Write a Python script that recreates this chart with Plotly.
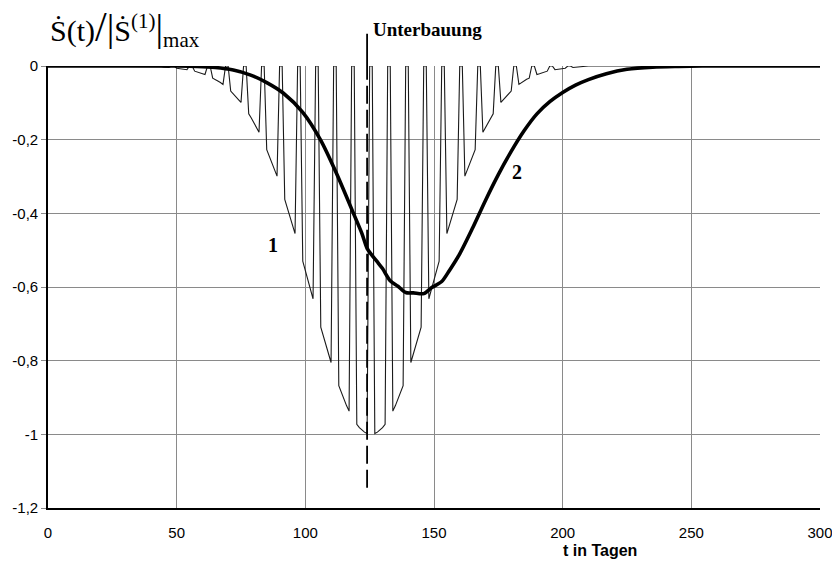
import plotly.graph_objects as go

# ---------------- data ----------------
# curve 1: working-day values (Mon..Fri) of each week; weekend days are 0
week_mondays = [43, 50, 57, 64, 71, 78, 85, 92, 99, 106, 113, 120,
                127, 134, 141, 148, 155, 162, 169, 176, 183, 190, 197, 204]
week_values = [
    [-0.002, -0.002, -0.003, -0.003, -0.004],
    [-0.006, -0.007, -0.008, -0.009, -0.010],
    [-0.014, -0.016, -0.018, -0.021, -0.023],
    [-0.033, -0.036, -0.041, -0.045, -0.050],
    [-0.068, -0.075, -0.083, -0.091, -0.099],
    [-0.130, -0.141, -0.154, -0.167, -0.180],
    [-0.227, -0.244, -0.261, -0.280, -0.299],
    [-0.362, -0.384, -0.407, -0.431, -0.455],
    [-0.530, -0.555, -0.581, -0.607, -0.632],
    [-0.709, -0.734, -0.758, -0.782, -0.805],
    [-0.868, -0.887, -0.905, -0.922, -0.937],
    [-0.973, -0.982, -0.989, -0.994, -0.998],
    [-0.998, -0.994, -0.989, -0.982, -0.973],
    [-0.937, -0.922, -0.905, -0.887, -0.868],
    [-0.805, -0.782, -0.758, -0.734, -0.709],
    [-0.632, -0.607, -0.581, -0.555, -0.530],
    [-0.455, -0.431, -0.407, -0.384, -0.362],
    [-0.299, -0.280, -0.261, -0.244, -0.227],
    [-0.180, -0.167, -0.154, -0.141, -0.130],
    [-0.099, -0.091, -0.083, -0.075, -0.068],
    [-0.050, -0.045, -0.041, -0.036, -0.033],
    [-0.023, -0.021, -0.018, -0.016, -0.014],
    [-0.010, -0.009, -0.008, -0.007, -0.006],
    [-0.004, -0.003, -0.003, -0.002, -0.002],
]

# curve 2: smooth curve
curve2_t = [0, 50, 58, 65, 72, 78.5, 85, 91.5, 99, 106, 112, 118.7, 122, 124,
            126, 128, 130, 133, 136, 139, 142, 146, 149, 153, 156, 160, 165,
            170, 175, 180, 185, 190, 195, 200, 205, 210, 217, 225, 235, 245, 255, 300]
curve2_v = [0, 0, -0.001, -0.004, -0.011, -0.024, -0.045, -0.074, -0.126, -0.202,
            -0.290, -0.400, -0.455, -0.495, -0.515, -0.532, -0.550, -0.583, -0.598,
            -0.615, -0.616, -0.618, -0.602, -0.585, -0.555, -0.510, -0.440,
            -0.365, -0.295, -0.232, -0.176, -0.130, -0.097, -0.072, -0.052,
            -0.037, -0.021, -0.009, -0.003, -0.001, 0, 0]

unterbauung_t = 124
x_ticks = [0, 50, 100, 150, 200, 250, 300]
y_ticks = [0, -0.2, -0.4, -0.6, -0.8, -1.0, -1.2]
y_tick_labels = ["0", "-0,2", "-0,4", "-0,6", "-0,8", "-1", "-1,2"]

# build daily series for curve 1
days = list(range(0, 301))
vals = [0.0] * len(days)
for mon, wv in zip(week_mondays, week_values):
    for i, v in enumerate(wv):
        vals[mon + i] = v

fig = go.Figure()
fig.add_trace(go.Scatter(x=days, y=vals, mode="lines",
                         line=dict(color="#1a1a1a", width=1.1), showlegend=False))
fig.add_trace(go.Scatter(x=curve2_t, y=curve2_v, mode="lines", line_shape="spline",
                         line=dict(color="black", width=3.6, smoothing=0.8), showlegend=False))

# Unterbauung marker line
fig.add_shape(type="line", xref="x", yref="y", x0=unterbauung_t, x1=unterbauung_t,
              y0=-1.145, y1=0, line=dict(color="black", width=1.8, dash="18px,6px"))
fig.add_shape(type="line", xref="x", yref="paper", x0=unterbauung_t, x1=unterbauung_t,
              y0=1.0, y1=1.073, line=dict(color="black", width=1.8))

serif = "Liberation Serif, Times New Roman, DejaVu Serif, serif"
fig.add_annotation(x=unterbauung_t, xref="x", y=1.082, yref="paper", xanchor="left",
                   yanchor="middle", xshift=4, showarrow=False,
                   text="<b>Unterbauung</b>", font=dict(family=serif, size=19, color="black"))
fig.add_annotation(x=87.5, y=-0.486, showarrow=False, text="<b>1</b>",
                   font=dict(family=serif, size=20, color="black"))
fig.add_annotation(x=182.3, y=-0.288, showarrow=False, text="<b>2</b>",
                   font=dict(family=serif, size=20, color="black"))
fig.add_annotation(x=0, xref="paper", y=1.085, yref="paper", xanchor="left",
                   yanchor="middle", showarrow=False,
                   text="Ṡ(t)<span style='font-size:42px'>/</span><span style='font-size:38px'>|</span>Ṡ<sup>(1)</sup><span style='font-size:38px'>|</span><sub>max</sub>",
                   font=dict(family=serif, size=30, color="black"))
fig.add_annotation(x=0.715, xref="paper", y=-0.097, yref="paper", showarrow=False,
                   text="<b>t in Tagen</b>", xanchor="center", yanchor="middle",
                   font=dict(family="Liberation Sans, Arial, sans-serif", size=16, color="black"))

fig.update_layout(
    width=832, height=568,
    margin=dict(l=48, r=12, t=66, b=60, autoexpand=False),
    paper_bgcolor="white", plot_bgcolor="white",
    font=dict(family="Liberation Sans, Arial, sans-serif", size=15, color="black"),
)
fig.update_xaxes(range=[0, 300], tickvals=x_ticks, ticktext=[str(v) for v in x_ticks],
                 tickfont=dict(size=15), automargin=False, ticklabeloverflow="allow",
                 showgrid=True, gridcolor="#8a8a8a", gridwidth=1,
                 showline=True, linecolor="black", linewidth=1.6,
                 ticks="", ticklabelstandoff=10, zeroline=False)
fig.update_yaxes(range=[-1.2, 0], tickvals=y_ticks, ticktext=y_tick_labels,
                 tickfont=dict(size=15), automargin=False, ticklabeloverflow="allow",
                 showgrid=True, gridcolor="#8a8a8a", gridwidth=1,
                 showline=True, linecolor="black", linewidth=1.6,
                 ticks="outside", ticklen=5, tickcolor="#8a8a8a", zeroline=False)

fig.write_html("out.html")
